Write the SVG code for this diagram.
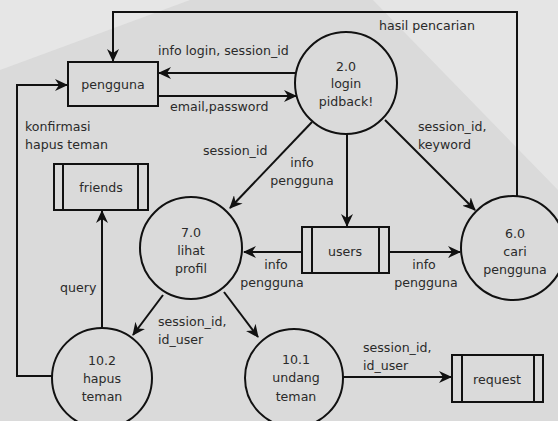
<svg xmlns="http://www.w3.org/2000/svg" width="558" height="421" viewBox="0 0 558 421">
<defs>
<marker id="arr" markerWidth="14" markerHeight="12" refX="12" refY="6" orient="auto" markerUnits="userSpaceOnUse">
<path d="M0,0 L13,6 L0,12 L4,6 z" fill="#111"/>
</marker>
<style>
.ln{fill:none;stroke:#111;stroke-width:2}
.sh{fill:none;stroke:#111;stroke-width:2}
text{font-family:"DejaVu Sans",Verdana,sans-serif;font-size:12.6px;fill:#2a2a2a}
.c{text-anchor:middle}
</style>
</defs>
<rect x="0" y="0" width="558" height="421" fill="#dadada"/>
<polygon points="0,0 190,0 0,70" fill="#e6e6e6"/>
<polygon points="373,0 558,0 558,190" fill="#e5e5e5"/>
<g id="connectors">
<polyline class="ln" points="517,196 517,12 113,12 113,61" marker-end="url(#arr)"/>
<line class="ln" x1="296" y1="73" x2="159" y2="73" marker-end="url(#arr)"/>
<line class="ln" x1="158" y1="96" x2="296" y2="96" marker-end="url(#arr)"/>
<polyline class="ln" points="52,376 17,376 17,85 67,85" marker-end="url(#arr)"/>
<line class="ln" x1="102" y1="328" x2="102" y2="211" marker-end="url(#arr)"/>
<line class="ln" x1="347" y1="133" x2="347" y2="226" marker-end="url(#arr)"/>
<line class="ln" x1="312" y1="122" x2="230" y2="208" marker-end="url(#arr)"/>
<line class="ln" x1="385" y1="120" x2="475" y2="210" marker-end="url(#arr)"/>
<line class="ln" x1="302" y1="252" x2="244" y2="252" marker-end="url(#arr)"/>
<line class="ln" x1="389" y1="252" x2="460" y2="252" marker-end="url(#arr)"/>
<line class="ln" x1="163" y1="295" x2="133" y2="335" marker-end="url(#arr)"/>
<line class="ln" x1="224" y1="292" x2="258" y2="337" marker-end="url(#arr)"/>
<line class="ln" x1="343" y1="377" x2="451" y2="377" marker-end="url(#arr)"/>
<text x="379" y="30">hasil pencarian</text>
<text x="158" y="55">info login, session_id</text>
<text x="170" y="111">email,password</text>
<text x="25" y="131">konfirmasi</text>
<text x="25" y="149">hapus teman</text>
<text x="203" y="155">session_id</text>
<text class="c" x="302" y="167">info</text>
<text class="c" x="302" y="185">pengguna</text>
<text x="418" y="131">session_id,</text>
<text x="418" y="149">keyword</text>
<text class="c" x="276" y="269">info</text>
<text class="c" x="272" y="287">pengguna</text>
<text class="c" x="424" y="269">info</text>
<text class="c" x="426" y="287">pengguna</text>
<text x="60" y="292">query</text>
<text x="158" y="326">session_id,</text>
<text x="158" y="344">id_user</text>
<text x="363" y="352">session_id,</text>
<text x="363" y="370">id_user</text>
</g>
<g id="pengguna">
<rect class="sh" x="68" y="62" width="90" height="44"/>
<text class="c" x="113" y="89">pengguna</text>
</g>
<g id="p2">
<circle class="sh" cx="346" cy="83" r="51"/>
<text class="c" x="346" y="71">2.0</text>
<text class="c" x="346" y="88">login</text>
<text class="c" x="346" y="106">pidback!</text>
</g>
<g id="friends">
<rect class="sh" x="54" y="164" width="94" height="46"/>
<line class="sh" x1="63" y1="164" x2="63" y2="210"/>
<line class="sh" x1="138" y1="164" x2="138" y2="210"/>
<text class="c" x="101" y="192">friends</text>
</g>
<g id="p7">
<circle class="sh" cx="191" cy="248" r="51"/>
<text class="c" x="191" y="237">7.0</text>
<text class="c" x="191" y="255">lihat</text>
<text class="c" x="191" y="273">profil</text>
</g>
<g id="users">
<rect class="sh" x="302" y="227" width="87" height="46"/>
<line class="sh" x1="312" y1="227" x2="312" y2="273"/>
<line class="sh" x1="379" y1="227" x2="379" y2="273"/>
<text class="c" x="345" y="256">users</text>
</g>
<g id="p6">
<circle class="sh" cx="513" cy="248" r="52"/>
<text class="c" x="515" y="238">6.0</text>
<text class="c" x="515" y="256">cari</text>
<text class="c" x="515" y="274">pengguna</text>
</g>
<g id="p102">
<circle class="sh" cx="102" cy="378" r="50"/>
<text class="c" x="102" y="365">10.2</text>
<text class="c" x="102" y="383">hapus</text>
<text class="c" x="102" y="401">teman</text>
</g>
<g id="p101">
<circle class="sh" cx="294" cy="378" r="49"/>
<text class="c" x="296" y="364">10.1</text>
<text class="c" x="296" y="382">undang</text>
<text class="c" x="296" y="401">teman</text>
</g>
<g id="request">
<rect class="sh" x="452" y="355" width="91" height="47"/>
<line class="sh" x1="462" y1="355" x2="462" y2="402"/>
<line class="sh" x1="534" y1="355" x2="534" y2="402"/>
<text class="c" x="497" y="384">request</text>
</g>
</svg>
